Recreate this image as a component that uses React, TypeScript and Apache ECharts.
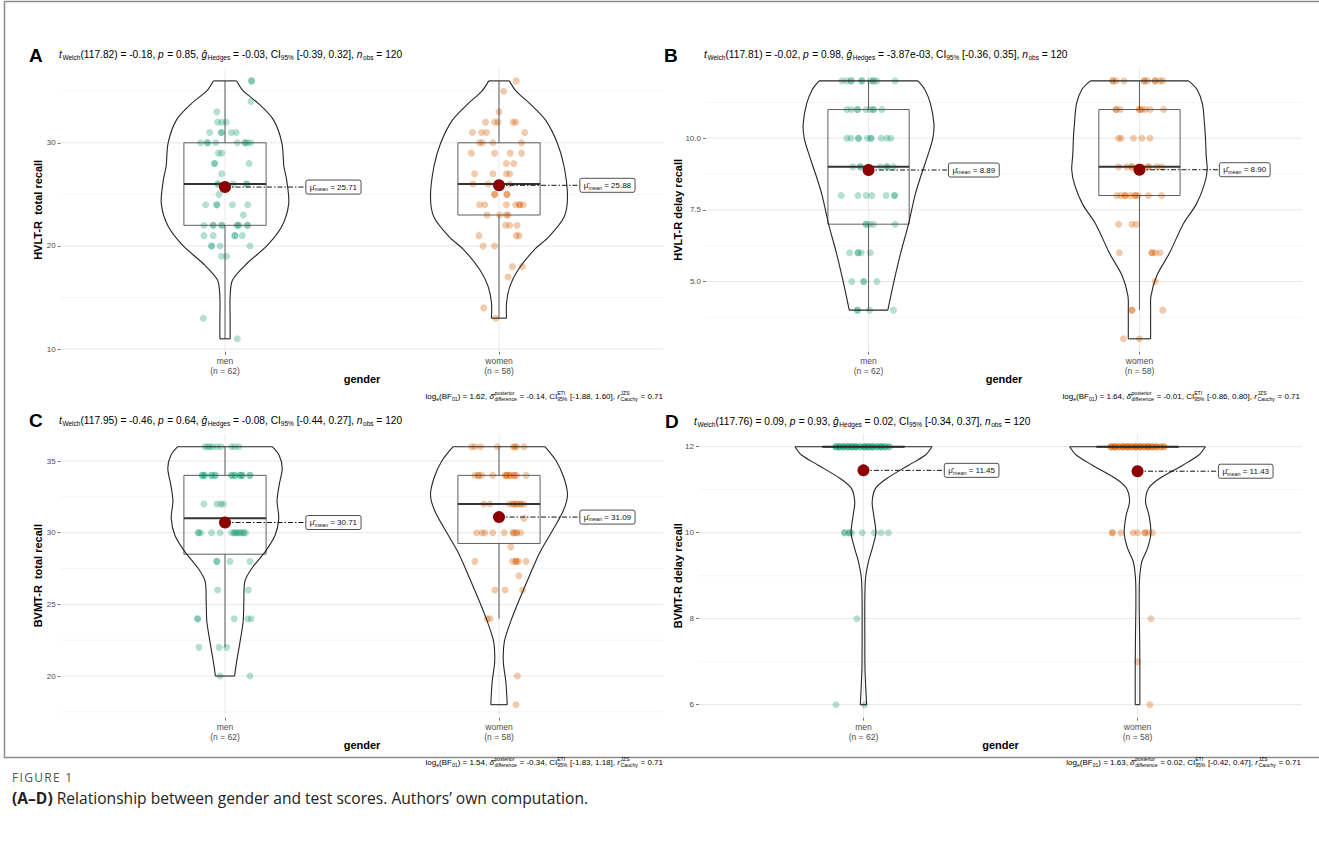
import React, { useEffect, useRef } from "react";
import * as echarts from "echarts";

// ---------------- DATA ----------------
const GROUPS = ["men", "women"];
const GROUP_N = [62, 58];

// points: [jitter offset (category units), value, overlapping count]
const A_MEN_POINTS: number[][] = [
  [0.097, 36, 2], [0.095, 34], [-0.03, 33],
  [-0.027, 32], [-0.012, 32], [0.004, 32],
  [-0.056, 31], [-0.013, 31, 2], [0.023, 31], [0.041, 31],
  [-0.089, 30], [-0.064, 30, 2], [-0.034, 30], [0.045, 30], [0.073, 30, 2], [0.082, 30], [0.094, 30],
  [-0.024, 29], [-0.012, 29],
  [-0.038, 28, 2], [0.088, 28],
  [-0.012, 27],
  [-0.026, 26, 2], [0.079, 26, 2], [0.03, 26],
  [-0.022, 25],
  [-0.071, 24], [-0.03, 24, 2], [0.027, 24], [0.083, 24],
  [0.067, 23],
  [-0.077, 22], [-0.043, 22, 2], [-0.012, 22, 2], [0.045, 22, 2], [0.051, 22], [0.082, 22, 2],
  [-0.077, 21], [-0.043, 21], [0.036, 21, 2], [0.063, 21],
  [-0.049, 20, 2], [-0.018, 20], [0.091, 20],
  [-0.013, 19], [0.006, 19],
  [-0.079, 13],
  [0.045, 11],
];
const A_WOMEN_POINTS: number[][] = [
  [0.063, 36], [0.017, 35], [0.0, 33],
  [-0.049, 32], [-0.016, 32], [-0.004, 32], [0.051, 32], [0.061, 32],
  [-0.097, 31], [-0.064, 31], [-0.046, 31], [0.094, 31],
  [-0.071, 30], [-0.061, 30], [-0.022, 30], [0.082, 30],
  [-0.101, 29], [-0.016, 29], [0.041, 29], [0.082, 29],
  [0.027, 28], [0.054, 28],
  [-0.089, 27], [-0.022, 27], [0.027, 27], [0.039, 27],
  [-0.095, 26], [-0.04, 26], [0.039, 26], [0.006, 26],
  [-0.016, 25, 2], [0.029, 25, 2],
  [-0.071, 24], [-0.052, 24], [0.027, 24], [0.061, 24], [0.075, 24, 2], [0.088, 24],
  [-0.044, 23], [0.002, 23], [0.027, 23], [0.033, 23],
  [0.024, 22], [0.039, 22], [0.066, 22],
  [-0.073, 21], [0.063, 21], [0.073, 21],
  [-0.058, 20], [-0.016, 20],
  [0.049, 18], [0.085, 18],
  [0.033, 17], [-0.056, 14], [-0.012, 13],
];
const B_MEN_POINTS: number[][] = [
  [-0.098, 12], [-0.08, 12], [-0.064, 12, 2], [-0.025, 12, 2], [0.006, 12], [0.018, 12, 2], [0.031, 12], [0.098, 12],
  [-0.08, 11], [-0.064, 11], [-0.041, 11, 2], [-0.009, 11], [0.006, 11], [0.018, 11, 2], [0.049, 11],
  [-0.08, 10], [-0.065, 10], [-0.037, 10, 2], [-0.004, 10], [0.009, 10, 2], [0.047, 10], [0.068, 10], [0.082, 10],
  [-0.058, 9], [-0.031, 9, 2], [0.043, 9], [0.068, 9, 2], [0.092, 9],
  [-0.101, 8], [-0.039, 8], [-0.009, 8], [0.012, 8], [0.065, 8], [0.096, 8, 2],
  [-0.009, 7, 2], [0.004, 7], [0.018, 7], [0.098, 7],
  [-0.07, 6], [-0.039, 6, 2], [-0.027, 6], [0.006, 6],
  [-0.062, 5], [-0.018, 5, 2], [0.031, 5],
  [-0.041, 4, 2], [0.004, 4], [0.092, 4],
];
const B_WOMEN_POINTS: number[][] = [
  [-0.098, 12, 2], [-0.086, 12], [-0.057, 12], [0.018, 12, 2], [0.03, 12], [0.058, 12, 2], [0.076, 12], [0.086, 12],
  [-0.086, 11, 2], [-0.071, 11], [0.0, 11, 2], [0.009, 11], [0.021, 11], [0.039, 11], [0.089, 11],
  [-0.077, 10], [-0.068, 10], [-0.022, 10], [0.009, 10], [0.039, 10],
  [-0.077, 9], [-0.047, 9], [-0.028, 9, 2], [0.009, 9], [0.033, 9, 2], [0.064, 9], [0.082, 9],
  [-0.084, 8], [-0.069, 8], [-0.053, 8, 2], [-0.034, 8], [-0.016, 8, 2], [-0.004, 8], [0.033, 8], [0.082, 8],
  [-0.077, 7], [-0.028, 7], [-0.012, 7],
  [-0.074, 6], [0.046, 6, 2], [0.058, 6], [0.076, 6],
  [0.058, 5],
  [-0.028, 4, 2], [0.086, 4],
  [-0.059, 3], [0.0, 3],
];
const C_MEN_POINTS: number[][] = [
  [-0.073, 36], [-0.063, 36], [-0.055, 36], [-0.046, 36], [-0.03, 36], [-0.015, 36], [0.024, 36], [0.036, 36], [0.051, 36],
  [-0.083, 34, 2], [-0.075, 34, 2], [-0.049, 34, 2], [-0.036, 34, 2], [0.024, 34, 2], [0.036, 34, 2], [0.055, 34, 2], [0.063, 34, 2], [0.091, 34, 2],
  [-0.077, 32], [-0.03, 32], [-0.015, 32], [-0.006, 32],
  [-0.097, 30, 2], [-0.088, 30], [-0.049, 30], [-0.018, 30], [0.024, 30], [0.034, 30, 2], [0.043, 30, 2], [0.055, 30, 2], [0.067, 30, 2], [0.075, 30],
  [-0.03, 28, 2], [0.018, 28], [0.091, 28],
  [-0.027, 26], [0.085, 26],
  [-0.1, 24, 2], [0.034, 24], [0.083, 24], [0.095, 24],
  [-0.095, 22], [-0.022, 22], [0.006, 22],
  [-0.018, 20], [0.091, 20],
];
const C_WOMEN_POINTS: number[][] = [
  [-0.1, 36], [-0.088, 36], [-0.067, 36], [-0.006, 36], [0.052, 36], [0.058, 36], [0.064, 36], [0.091, 36],
  [-0.088, 34], [-0.075, 34, 2], [-0.063, 34], [-0.023, 34], [0.022, 34], [0.028, 34, 2], [0.04, 34, 2], [0.055, 34, 2], [0.064, 34], [0.099, 34],
  [-0.055, 32], [-0.033, 32], [0.038, 32], [0.052, 32, 2], [0.064, 32, 2], [0.079, 32, 2], [0.091, 32],
  [0.091, 31],
  [-0.082, 30], [-0.063, 30], [-0.051, 30], [-0.023, 30], [0.019, 30], [0.052, 30, 2], [0.064, 30, 2], [0.079, 30],
  [0.043, 29],
  [-0.088, 28], [0.05, 28], [0.062, 28, 2], [0.071, 28], [0.099, 28],
  [0.073, 27],
  [-0.015, 26], [0.022, 26], [0.086, 26],
  [-0.043, 24], [-0.033, 24],
  [0.067, 20], [0.062, 18],
];
const D_MEN_POINTS: number[][] = [
  [-0.101, 12, 3], [-0.088, 12, 4], [-0.073, 12, 4], [-0.057, 12, 4], [-0.043, 12, 4], [-0.028, 12, 4], [-0.012, 12, 3],
  [0.004, 12, 4], [0.018, 12, 4], [0.033, 12, 4], [0.049, 12, 3], [0.064, 12, 4], [0.079, 12, 3], [0.094, 12, 2],
  [-0.069, 10, 2], [-0.052, 10, 2], [-0.043, 10], [-0.004, 10], [0.04, 10], [0.064, 10], [0.091, 10],
  [-0.024, 8],
  [-0.1, 6], [0.004, 6],
];
const D_WOMEN_POINTS: number[][] = [
  [-0.097, 12, 3], [-0.083, 12, 4], [-0.068, 12, 3], [-0.052, 12, 4], [-0.036, 12, 4], [-0.022, 12, 3], [-0.007, 12, 4],
  [0.009, 12, 4], [0.024, 12, 3], [0.039, 12, 4], [0.054, 12, 3], [0.069, 12, 3], [0.085, 12, 2], [0.097, 12, 2],
  [-0.092, 10, 2], [-0.061, 10], [-0.016, 10], [0.0, 10], [0.027, 10, 2], [0.039, 10], [0.054, 10],
  [0.049, 8], [0.0, 7], [0.045, 6],
];

// violin profiles: [value, relative density]
const A_MEN_VIOLIN = [[36, 0.17], [35, 0.27], [33.8, 0.49], [32.2, 0.71], [30, 0.83], [27.7, 0.86], [26.4, 0.9], [24.1, 0.93], [21.9, 0.83], [20, 0.61], [18.3, 0.32], [16.7, 0.11], [15.1, 0.075], [12.8, 0.075], [11, 0.075]];
const A_WOMEN_VIOLIN = [[36, 0.15], [35, 0.25], [33.8, 0.45], [32.2, 0.68], [30, 0.85], [27.7, 0.95], [24.8, 1.0], [22.8, 0.95], [20.9, 0.73], [19.6, 0.51], [17.7, 0.28], [16.1, 0.16], [14.5, 0.11], [13, 0.11]];
const B_MEN_VIOLIN = [[12, 0.73], [11.7, 0.83], [11.2, 0.915], [10.5, 0.965], [10, 0.95], [9.4, 0.875], [8.7, 0.775], [8, 0.685], [7, 0.59], [6, 0.475], [5, 0.375], [4, 0.285]];
const B_WOMEN_VIOLIN = [[12, 0.725], [11.7, 0.85], [11.2, 0.93], [10.5, 0.96], [10, 0.975], [9.4, 0.985], [8.9, 1.0], [8.4, 0.96], [7.7, 0.84], [7, 0.645], [6, 0.445], [5.2, 0.255], [4.5, 0.17], [4, 0.165], [3, 0.165]];
const C_MEN_VIOLIN = [[36, 0.69], [35.4, 0.79], [34.5, 0.835], [33.3, 0.79], [32.2, 0.76], [31, 0.785], [29.8, 0.73], [28.7, 0.59], [27.5, 0.39], [26.6, 0.29], [25.2, 0.275], [23.8, 0.265], [22.4, 0.22], [21, 0.17], [20, 0.14]];
const C_WOMEN_VIOLIN = [[36, 0.67], [35, 0.835], [33.8, 0.95], [32.6, 1.0], [31.5, 0.935], [30.1, 0.775], [28.7, 0.605], [27, 0.445], [25.2, 0.285], [23.8, 0.17], [22.4, 0.078], [21, 0.063], [19.6, 0.1], [18, 0.12]];
const D_MEN_VIOLIN = [[12, 1.0], [11.8, 0.9], [11.57, 0.66], [11.26, 0.34], [11.03, 0.176], [10.72, 0.127], [10.41, 0.15], [10, 0.18], [9.64, 0.13], [9.33, 0.073], [8.94, 0.03], [8.4, 0.02], [7.6, 0.02], [6.85, 0.022], [6.38, 0.034], [6, 0.046]];
const D_WOMEN_VIOLIN = [[12, 0.99], [11.8, 0.89], [11.57, 0.66], [11.26, 0.32], [11.03, 0.16], [10.72, 0.117], [10.41, 0.166], [10, 0.195], [9.64, 0.146], [9.33, 0.063], [8.94, 0.03], [8.4, 0.024], [7.6, 0.03], [6.85, 0.034], [6, 0.034]];

// box stats: [lower whisker, Q1, median, Q3, upper whisker]
const A_BOXES = [[11, 22, 26, 30, 36], [13, 23, 26, 30, 36]];
const B_BOXES = [[4, 7, 9, 11, 12], [4, 8, 9, 11, 12]];
const C_BOXES = [[22, 28.5, 31, 34, 36], [24, 29.25, 32, 34, 36]];
const D_BOXES = [[12, 12, 12, 12, 12], [12, 12, 12, 12, 12]];

const A_MEANS = [25.71, 25.88];
const B_MEANS = [8.89, 8.9];
const C_MEANS = [30.71, 31.09];
const D_MEANS = [11.45, 11.43];

// axes
const A_RANGE = [9.75, 37.25];
const B_RANGE = [2.55, 12.45];
const C_RANGE = [17.1, 36.9];
const D_RANGE = [5.7, 12.3];
const A_TICKS = [10, 20, 30];
const B_TICKS = [5, 7.5, 10];
const C_TICKS = [20, 25, 30, 35];
const D_TICKS = [6, 8, 10, 12];
const A_MINOR = [15, 25, 35];
const B_MINOR = [3.75, 6.25, 8.75, 11.25];
const C_MINOR = [17.5, 22.5, 27.5, 32.5];
const D_MINOR = [7, 9, 11];

const Y_TITLES = ["HVLT-R  total recall", "HVLT-R delay recall", "BVMT-R  total recall", "BVMT-R delay recall"];
const X_TITLE = "gender";

// statistics text: [df, t, p, g, CI, n]
const A_WELCH = ["117.82", "-0.18", "0.85", "-0.03", "[-0.39, 0.32]", "120"];
const B_WELCH = ["117.81", "-0.02", "0.98", "-3.87e-03", "[-0.36, 0.35]", "120"];
const C_WELCH = ["117.95", "-0.46", "0.64", "-0.08", "[-0.44, 0.27]", "120"];
const D_WELCH = ["117.76", "0.09", "0.93", "0.02", "[-0.34, 0.37]", "120"];
// [log BF01, delta, CI, r]
const A_BAYES = ["1.62", "-0.14", "[-1.88, 1.60]", "0.71"];
const B_BAYES = ["1.64", "-0.01", "[-0.86, 0.80]", "0.71"];
const C_BAYES = ["1.54", "-0.34", "[-1.83, 1.18]", "0.71"];
const D_BAYES = ["1.63", "0.02", "[-0.42, 0.47]", "0.71"];

const FIG_LABEL = "FIGURE 1";
const FIG_CAPTION_BOLD = "(A\u2013D)";
const FIG_CAPTION = " Relationship between gender and test scores. Authors\u2019 own computation.";

// ---------------- STYLE / LAYOUT ----------------
const FONT = '"Liberation Sans", Arial, Helvetica, sans-serif';
const CAP_FONT = '"Open Sans", "Noto Sans", sans-serif';
const COLORS = ["#1B9E77", "#D95F02"];
const MEAN_COLOR = "#8B0000";
const VIOLIN_HALF = 0.25;
const BOX_HALF = 0.15;
const LABEL_DX = 0.295;

type Run = { t?: string; k?: "sub" | "sup"; it?: boolean; bd?: boolean; st?: [string, string] };

let _ctx: CanvasRenderingContext2D | null = null;
function textWidth(t: string, size: number, bold = false, italic = false, family = FONT) {
  if (!_ctx) _ctx = document.createElement("canvas").getContext("2d");
  if (!_ctx) return t.length * size * 0.5;
  _ctx.font = `${italic ? "italic " : ""}${bold ? "bold " : ""}${size}px ${family}`;
  return _ctx.measureText(t).width;
}

function textEl(text: string, x: number, y: number, size: number, opts: any = {}) {
  return {
    type: "text",
    x,
    y,
    silent: true,
    style: {
      text,
      fill: opts.color || "#000",
      fontSize: size,
      fontFamily: opts.family || FONT,
      fontWeight: opts.bold ? "bold" : "normal",
      fontStyle: opts.italic ? "italic" : "normal",
      textAlign: opts.align || "left",
      textVerticalAlign: "middle",
      align: opts.align || "left",
      verticalAlign: "middle",
    },
  };
}

function layoutRuns(runs: Run[], base: number, x: number, y: number, align: "left" | "right", color: string) {
  const small = base * 0.64;
  const widths = runs.map((r) => {
    if (r.st) return Math.max(textWidth(r.st[0], small), textWidth(r.st[1], small)) + 0.5;
    const s = r.k ? small : base;
    return textWidth(r.t || "", s, !!r.bd, !!r.it) + (r.it ? 0.6 : 0);
  });
  const total = widths.reduce((a, b) => a + b, 0);
  let cx = align === "left" ? x : x - total;
  const els: any[] = [];
  runs.forEach((r, i) => {
    if (r.st) {
      els.push(textEl(r.st[0], cx, y - base * 0.38, small, { color }));
      els.push(textEl(r.st[1], cx, y + base * 0.4, small, { color }));
    } else if (r.k) {
      els.push(textEl(r.t || "", cx, y + (r.k === "sub" ? base * 0.33 : -base * 0.35), small, { color }));
    } else {
      els.push(textEl(r.t || "", cx, y, base, { color, italic: r.it, bold: r.bd }));
    }
    cx += widths[i];
  });
  return els;
}

function spacedText(text: string, x: number, y: number, size: number, spacing: number, color: string) {
  const els: any[] = [];
  let cx = x;
  for (const ch of text) {
    els.push(textEl(ch, cx, y, size, { color, family: CAP_FONT }));
    cx += textWidth(ch, size, false, false, CAP_FONT) + spacing;
  }
  return els;
}

function welchRuns(w: string[]): Run[] {
  const [df, t, p, g, ci, n] = w;
  return [
    { t: "t", it: true }, { t: "Welch", k: "sub" }, { t: `(${df}) = ${t}, ` },
    { t: "p", it: true }, { t: ` = ${p}, ` },
    { t: "\u011D", it: true }, { t: "Hedges", k: "sub" }, { t: ` = ${g}, CI` },
    { t: "95%", k: "sub" }, { t: ` ${ci}, ` },
    { t: "n", it: true }, { t: "obs", k: "sub" }, { t: ` = ${n}` },
  ];
}
function bayesRuns(b: string[]): Run[] {
  const [bf, d, ci, r] = b;
  return [
    { t: "log" }, { t: "e", k: "sub" }, { t: "(BF" }, { t: "01", k: "sub" }, { t: `) = ${bf}, ` },
    { t: "\u03B4\u0302", it: true }, { st: ["posterior", "difference"] }, { t: ` = ${d}, CI` },
    { st: ["ETI", "95%"] }, { t: ` ${ci}, ` },
    { t: "r", it: true }, { st: ["JZS", "Cauchy"] }, { t: ` = ${r}` },
  ];
}

const PANELS = [
  { letter: "A", rect: [60.6, 68, 602.8, 283.7], range: A_RANGE, ticks: A_TICKS, minor: A_MINOR, dec: 0,
    points: [A_MEN_POINTS, A_WOMEN_POINTS], violins: [A_MEN_VIOLIN, A_WOMEN_VIOLIN], boxes: A_BOXES, means: A_MEANS,
    welch: A_WELCH, bayes: A_BAYES, letterPos: [29, 55], subPos: [59, 54], bayesPos: [663, 396], yGap: 17 },
  { letter: "B", rect: [706, 68, 596, 283.7], range: B_RANGE, ticks: B_TICKS, minor: B_MINOR, dec: 1,
    points: [B_MEN_POINTS, B_WOMEN_POINTS], violins: [B_MEN_VIOLIN, B_WOMEN_VIOLIN], boxes: B_BOXES, means: B_MEANS,
    welch: B_WELCH, bayes: B_BAYES, letterPos: [664, 55], subPos: [704, 54], bayesPos: [1300, 396], yGap: 23 },
  { letter: "C", rect: [60.6, 433.8, 602.8, 283.8], range: C_RANGE, ticks: C_TICKS, minor: C_MINOR, dec: 0,
    points: [C_MEN_POINTS, C_WOMEN_POINTS], violins: [C_MEN_VIOLIN, C_WOMEN_VIOLIN], boxes: C_BOXES, means: C_MEANS,
    welch: C_WELCH, bayes: C_BAYES, letterPos: [29, 420], subPos: [59, 420], bayesPos: [663, 762], yGap: 17 },
  { letter: "D", rect: [699, 433.8, 603, 283.8], range: D_RANGE, ticks: D_TICKS, minor: D_MINOR, dec: 0,
    points: [D_MEN_POINTS, D_WOMEN_POINTS], violins: [D_MEN_VIOLIN, D_WOMEN_VIOLIN], boxes: D_BOXES, means: D_MEANS,
    welch: D_WELCH, bayes: D_BAYES, letterPos: [665, 421], subPos: [694, 421], bayesPos: [1301, 762], yGap: 16 },
];

function expandPoints(pts: number[][], center: number) {
  const out: number[][] = [];
  for (const p of pts) {
    const n = p[2] || 1;
    for (let k = 0; k < n; k++) out.push([center + p[0], p[1]]);
  }
  return out;
}

function gridRenderer(p: any) {
  return (_params: any, api: any) => {
    const children: any[] = [];
    const [lo, hi] = p.range;
    const hline = (v: number, color: string, w: number) => {
      const a = api.coord([0.4, v]);
      const b = api.coord([2.6, v]);
      children.push({ type: "line", shape: { x1: a[0], y1: a[1], x2: b[0], y2: b[1] }, style: { stroke: color, lineWidth: w } });
    };
    p.minor.forEach((v: number) => hline(v, "#f1f1f1", 0.7));
    p.ticks.forEach((v: number) => hline(v, "#e4e4e4", 0.9));
    [1, 2].forEach((g) => {
      const a = api.coord([g, lo]);
      const b = api.coord([g, hi]);
      children.push({ type: "line", shape: { x1: a[0], y1: a[1], x2: b[0], y2: b[1] }, style: { stroke: "#e8e8e8", lineWidth: 0.9 } });
    });
    return { type: "group", children };
  };
}

function structureRenderer(p: any) {
  return (_params: any, api: any) => {
    const children: any[] = [];
    for (let g = 0; g < 2; g++) {
      const cx = g + 1;
      // box plot
      const [lo, q1, med, q3, hi] = p.boxes[g];
      const tl = api.coord([cx - BOX_HALF, q3]);
      const br = api.coord([cx + BOX_HALF, q1]);
      const bs = { stroke: "#4d4d4d", lineWidth: 0.9, fill: "none" };
      children.push({ type: "rect", shape: { x: tl[0], y: tl[1], width: br[0] - tl[0], height: br[1] - tl[1] }, style: bs });
      const pHi = api.coord([cx, hi]), pQ3 = api.coord([cx, q3]), pQ1 = api.coord([cx, q1]), pLo = api.coord([cx, lo]);
      children.push({ type: "line", shape: { x1: pHi[0], y1: pHi[1], x2: pQ3[0], y2: pQ3[1] }, style: bs });
      children.push({ type: "line", shape: { x1: pQ1[0], y1: pQ1[1], x2: pLo[0], y2: pLo[1] }, style: bs });
      const ml = api.coord([cx - BOX_HALF, med]), mr = api.coord([cx + BOX_HALF, med]);
      children.push({ type: "line", shape: { x1: ml[0], y1: ml[1], x2: mr[0], y2: mr[1] }, style: { stroke: "#333", lineWidth: 2 } });
      // violin
      const prof = p.violins[g];
      const right = prof.map((d: number[]) => api.coord([cx + d[1] * VIOLIN_HALF, d[0]]));
      const left = prof.map((d: number[]) => api.coord([cx - d[1] * VIOLIN_HALF, d[0]]));
      const vs = { stroke: "#262626", lineWidth: 1.1, fill: "none" };
      children.push({ type: "polyline", shape: { points: right, smooth: 0.3 }, style: vs });
      children.push({ type: "polyline", shape: { points: left, smooth: 0.3 }, style: vs });
      const L = prof.length - 1;
      children.push({ type: "line", shape: { x1: left[0][0], y1: left[0][1], x2: right[0][0], y2: right[0][1] }, style: vs });
      children.push({ type: "line", shape: { x1: left[L][0], y1: left[L][1], x2: right[L][0], y2: right[L][1] }, style: vs });
    }
    return { type: "group", children };
  };
}

function meanLabelRenderer() {
  return (_params: any, api: any) => {
    const g = api.value(0);
    const m = api.value(1);
    const pt = api.coord([g, m]);
    const lx = api.coord([g + LABEL_DX, m])[0];
    const base = 8, small = 5.4;
    const t1 = "\u03BC\u0302", t2 = "mean", t3 = " = " + Number(m).toFixed(2);
    const w1 = textWidth(t1, base), w2 = textWidth(t2, small), w3 = textWidth(t3, base);
    const padX = 4, h = 14;
    const w = w1 + w2 + w3 + 2 * padX;
    const y = pt[1];
    const mk = (text: string, x: number, yy: number, size: number) => ({
      type: "text",
      x, y: yy,
      style: { text, fill: "#111", fontSize: size, fontFamily: FONT, textAlign: "left", textVerticalAlign: "middle", align: "left", verticalAlign: "middle" },
    });
    return {
      type: "group",
      children: [
        { type: "line", shape: { x1: pt[0], y1: y, x2: lx, y2: y }, style: { stroke: "#111", lineWidth: 1, lineDash: [5, 2, 1.5, 2] } },
        { type: "rect", shape: { x: lx, y: y - h / 2, width: w, height: h, r: 2 }, style: { fill: "#fff", stroke: "#222", lineWidth: 0.8 } },
        mk(t1, lx + padX, y, base),
        mk(t2, lx + padX + w1, y + 2.4, small),
        mk(t3, lx + padX + w1 + w2, y, base),
      ],
    };
  };
}

function buildOption() {
  const grid = PANELS.map((p) => ({
    left: p.rect[0], top: p.rect[1], width: p.rect[2], height: p.rect[3], containLabel: false, outerBoundsMode: "none",
  }));
  const xAxis = PANELS.map((_p, i) => ({
    type: "value", gridIndex: i, min: 0.4, max: 2.6,
    axisLine: { show: false },
    axisTick: { show: true, customValues: [1, 2], length: 3, lineStyle: { color: "#555", width: 0.8 } },
    axisLabel: {
      show: true, customValues: [1, 2], margin: 4, fontSize: 8.5, lineHeight: 10, color: "#4d4d4d", fontFamily: FONT,
      formatter: (v: number) => `${GROUPS[Math.round(v) - 1]}\n(n = ${GROUP_N[Math.round(v) - 1]})`,
    },
    splitLine: { show: false },
    name: X_TITLE, nameLocation: "middle", nameGap: 22, nameMoveOverlap: false,
    nameTextStyle: { fontSize: 11, fontWeight: "bold", color: "#000", fontFamily: FONT, verticalAlign: "top" },
  }));
  const yAxis = PANELS.map((p, i) => ({
    type: "value", gridIndex: i, min: p.range[0], max: p.range[1],
    axisLine: { show: false },
    axisTick: { show: true, customValues: p.ticks, length: 3, lineStyle: { color: "#555", width: 0.8 } },
    axisLabel: {
      show: true, customValues: p.ticks, margin: 5, fontSize: 8, color: "#4d4d4d", fontFamily: FONT,
      formatter: (v: number) => v.toFixed(p.dec),
    },
    splitLine: { show: false },
    name: Y_TITLES[i], nameLocation: "middle", nameGap: p.yGap, nameRotate: 90, nameMoveOverlap: false,
    nameTextStyle: { fontSize: 11, fontWeight: "bold", color: "#000", fontFamily: FONT },
  }));

  const series: any[] = [];
  PANELS.forEach((p, i) => {
    series.push({
      type: "custom", coordinateSystem: "cartesian2d", xAxisIndex: i, yAxisIndex: i, silent: true, z: 1,
      data: [[1, p.ticks[0]]], renderItem: gridRenderer(p),
    });
    [0, 1].forEach((g) => {
      series.push({
        type: "scatter", xAxisIndex: i, yAxisIndex: i, silent: true, z: 2,
        symbolSize: 7, itemStyle: { color: COLORS[g], opacity: 0.33 },
        data: expandPoints(p.points[g], g + 1),
      });
    });
    series.push({
      type: "custom", coordinateSystem: "cartesian2d", xAxisIndex: i, yAxisIndex: i, silent: true, z: 3,
      data: [[1, p.ticks[0]]], renderItem: structureRenderer(p),
    });
    series.push({
      type: "custom", coordinateSystem: "cartesian2d", xAxisIndex: i, yAxisIndex: i, silent: true, z: 4,
      data: p.means.map((m: number, g: number) => [g + 1, m]), renderItem: meanLabelRenderer(),
    });
    series.push({
      type: "scatter", xAxisIndex: i, yAxisIndex: i, silent: true, z: 5,
      symbolSize: 12, itemStyle: { color: MEAN_COLOR, opacity: 1 },
      data: p.means.map((m: number, g: number) => [g + 1, m]),
    });
  });

  const elements: any[] = [];
  elements.push({ type: "rect", silent: true, shape: { x: 4.5, y: 1.5, width: 1330, height: 756 }, style: { fill: "none", stroke: "#8c8c8c", lineWidth: 1.5 } });
  PANELS.forEach((p) => {
    elements.push(textEl(p.letter, p.letterPos[0], p.letterPos[1], 19, { bold: true }));
    elements.push(...layoutRuns(welchRuns(p.welch), 10.2, p.subPos[0], p.subPos[1], "left", "#000"));
    elements.push(...layoutRuns(bayesRuns(p.bayes), 8, p.bayesPos[0], p.bayesPos[1], "right", "#000"));
  });
  elements.push(...spacedText(FIG_LABEL, 12, 777, 12, 1.3, "#555"));
  const capSize = 15.6;
  const bw = textWidth(FIG_CAPTION_BOLD, capSize, true, false, CAP_FONT);
  elements.push(textEl(FIG_CAPTION_BOLD, 12, 798, capSize, { bold: true, color: "#222", family: CAP_FONT }));
  elements.push(textEl(FIG_CAPTION, 12 + bw, 798, capSize, { color: "#222", family: CAP_FONT }));

  return {
    animation: false,
    backgroundColor: "#fff",
    grid, xAxis, yAxis, series,
    graphic: { elements },
  };
}

export default function App() {
  const ref = useRef<HTMLDivElement>(null);
  useEffect(() => {
    document.body.style.margin = "0";
    if (!ref.current) return;
    const chart = echarts.init(ref.current, undefined, { renderer: "svg" });
    chart.setOption(buildOption() as any);
    return () => chart.dispose();
  }, []);
  return <div ref={ref} style={{ width: 1319, height: 858 }} />;
}
